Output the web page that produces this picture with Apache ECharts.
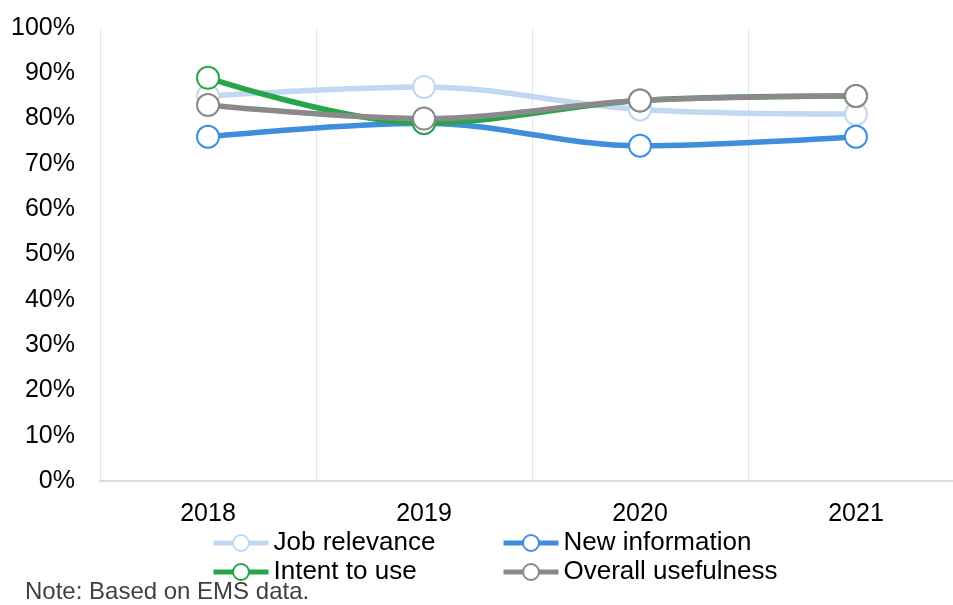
<!DOCTYPE html>
<html>
<head>
<meta charset="utf-8">
<script src="https://cdn.jsdelivr.net/npm/echarts@6/dist/echarts.min.js"></script>
<style>
  html, body { margin: 0; padding: 0; background: #fff; overflow: hidden; }
  #chart { width: 980px; height: 605px; }
</style>
</head>
<body>
<div id="chart"></div>
<script>
const years = ['2018', '2019', '2020', '2021']
const jobRelevance = [85, 87, 82, 81]
const newInformation = [76, 79, 74, 76]
const intentToUse = [89, 79, 84, 85]
const overallUsefulness = [83, 80, 84, 85]

const FONT = 'Liberation Sans, Arial, sans-serif'

const chart = echarts.init(document.getElementById('chart'))

function lineSeries(name, data, color) {
  return {
    name: name,
    type: 'line',
    data: data,
    smooth: 0.35,
    symbol: 'circle',
    symbolSize: 22,
    showSymbol: true,
    lineStyle: { color: color, width: 5.5 },
    itemStyle: { color: '#fff', borderColor: color, borderWidth: 2 },
    emphasis: { disabled: true }
  }
}

const legendCommon = {
  orient: 'vertical',
  padding: 0,
  itemWidth: 55,
  itemHeight: 20,
  itemGap: 3,
  lineStyle: { width: 5 },
  textStyle: { fontFamily: FONT, fontSize: 26, color: '#000' }
}

const option = {
  animation: false,
  textStyle: { fontFamily: FONT },
  grid: { left: 100, top: 28, width: 864, height: 453 },
  legend: [
    Object.assign({}, legendCommon, {
      left: 211, top: 530,
      data: ['Job relevance', 'Intent to use']
    }),
    Object.assign({}, legendCommon, {
      left: 501, top: 530,
      data: ['New information', 'Overall usefulness']
    })
  ],
  xAxis: {
    type: 'category',
    data: years,
    boundaryGap: true,
    axisLine: { lineStyle: { color: '#d9d9d9', width: 2 } },
    axisTick: { show: false },
    axisLabel: { color: '#000', fontSize: 25, fontFamily: FONT, margin: 21 },
    splitLine: { show: true, lineStyle: { color: '#e6e6e6', width: 1 } }
  },
  yAxis: {
    type: 'value',
    min: 0,
    max: 100,
    interval: 10,
    axisLine: { show: false },
    axisTick: { show: false },
    splitLine: { show: false },
    axisLabel: { color: '#000', fontSize: 25, fontFamily: FONT, margin: 25, formatter: '{value}%' }
  },
  graphic: [{
    type: 'text',
    left: 25,
    top: 580,
    style: { text: 'Note: Based on EMS data.', fill: '#404040', font: '24px ' + FONT }
  }],
  series: [
    lineSeries('Job relevance', jobRelevance, '#c2d7f2'),
    lineSeries('New information', newInformation, '#3f8edc'),
    lineSeries('Intent to use', intentToUse, '#28a54b'),
    lineSeries('Overall usefulness', overallUsefulness, '#8a8a8a')
  ]
}

chart.setOption(option)
</script>
</body>
</html>
